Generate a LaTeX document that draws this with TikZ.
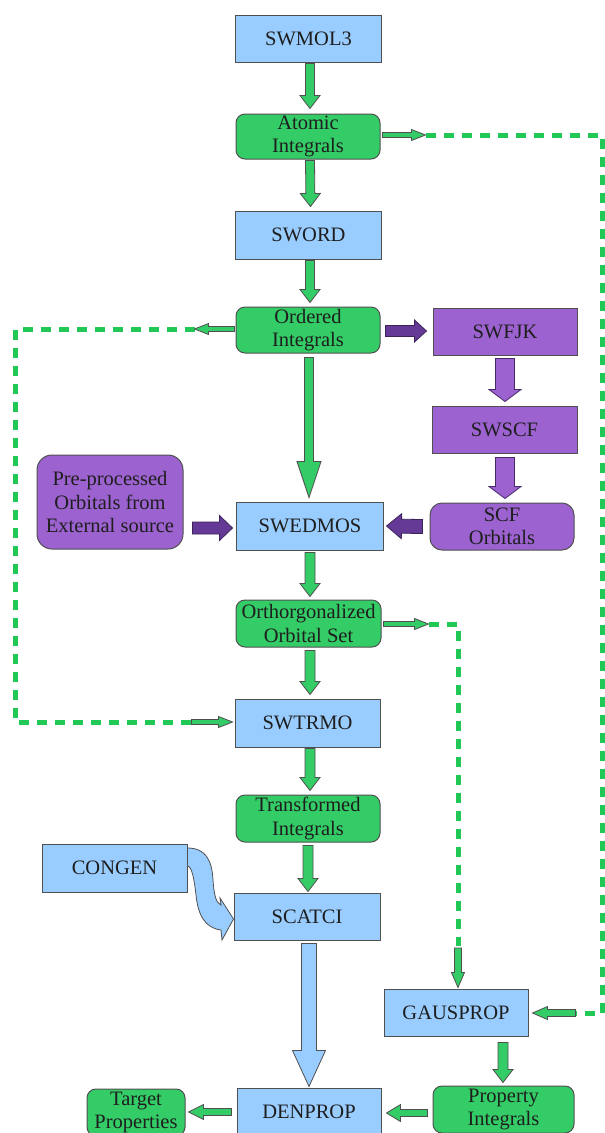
\documentclass[tikz,border=0pt]{standalone}
\usepackage{fontspec}
\setmainfont{Liberation Serif}
\usetikzlibrary{calc}
\definecolor{boxblue}{RGB}{153,204,255}
\definecolor{boxgreen}{RGB}{51,204,102}
\definecolor{dashgreen}{RGB}{34,200,85}
\definecolor{boxpurple}{RGB}{156,98,208}
\definecolor{darkpurple}{RGB}{100,58,150}
\definecolor{edgegray}{RGB}{80,80,80}
\definecolor{ink}{RGB}{30,30,30}
% block arrow: #1 style, #2 start, #3 tip, #4 shaft half width, #5 head half width, #6 head length
\newcommand{\barrow}[6]{%
 \path[#1] let \p1=(#2), \p2=(#3), \n1={atan2(\y2-\y1,\x2-\x1)}, \n2={veclen(\x2-\x1,\y2-\y1)} in
  ([shift={(\p1)},rotate=\n1]0,#4) -- ([shift={(\p1)},rotate=\n1]\n2-#6,#4) -- ([shift={(\p1)},rotate=\n1]\n2-#6,#5) -- ([shift={(\p1)},rotate=\n1]\n2,0) -- ([shift={(\p1)},rotate=\n1]\n2-#6,-#5) -- ([shift={(\p1)},rotate=\n1]\n2-#6,-#4) -- ([shift={(\p1)},rotate=\n1]0,-#4) -- cycle;}
\tikzset{
 base/.style={draw=edgegray, line width=1pt, text=ink, font=\fontsize{20.5}{23.5}\selectfont, align=center, inner sep=0pt, anchor=center},
 bluebox/.style={base, fill=boxblue, minimum width=146pt, minimum height=47pt},
 greenbox/.style={base, fill=boxgreen, rounded corners=9pt, minimum width=144pt, minimum height=46pt},
 purplebox/.style={base, fill=boxpurple, minimum width=145pt, minimum height=47pt},
 garrow/.style={draw=edgegray, line width=0.8pt, fill=boxgreen, line join=miter},
 barrowst/.style={draw=edgegray, line width=0.8pt, fill=boxblue, line join=miter},
 parrow/.style={draw=darkpurple!70!black, line width=0.8pt, fill=boxpurple, line join=miter},
 dparrow/.style={draw=darkpurple!60!black, line width=0.8pt, fill=darkpurple, line join=miter},
 dline/.style={draw=dashgreen, line width=5pt, dash pattern=on 10pt off 8pt, line join=miter}
}
\begin{document}
\begin{tikzpicture}[x=1pt,y=-1pt]
\useasboundingbox (0,0) rectangle (605,1133);
\fill[white] (0,0) rectangle (605,1133);
% nodes
\node[bluebox] (swmol) at (308.5,38.5) {SWMOL3};
\node[greenbox, minimum height=45pt] (atomic) at (308,136.5) {Atomic\\Integrals};
\node[bluebox, minimum height=48pt] (sword) at (308.5,235) {SWORD};
\node[greenbox] (ordered) at (308,330) {Ordered\\Integrals};
\node[purplebox, minimum width=144pt] (swfjk) at (505,331.5) {SWFJK};
\node[purplebox] (swscf) at (504.5,429.5) {SWSCF};
\node[purplebox, rounded corners=12pt, minimum width=144pt] (scf) at (502,526.5) {SCF\\Orbitals};
\node[bluebox, minimum width=147pt, minimum height=48pt] (swedmos) at (310,526) {SWEDMOS};
\node[purplebox, rounded corners=15pt, minimum width=146pt, minimum height=94pt] (pre) at (110,502) {Pre-processed\\Orbitals from\\External source};
\node[greenbox, minimum width=145pt, minimum height=47pt] (ortho) at (308.5,623.5) {Orthorgonalized\\Orbital Set};
\node[bluebox, minimum width=145pt, minimum height=48pt] (swtrmo) at (307.5,723) {SWTRMO};
\node[greenbox, minimum height=47pt] (trans) at (308,818.5) {Transformed\\Integrals};
\node[bluebox, minimum width=145pt, minimum height=48pt] (congen) at (114.5,868) {CONGEN};
\node[bluebox] (scatci) at (307,916.5) {SCATCI};
\node[bluebox, minimum width=144pt] (gausprop) at (456,1012.5) {GAUSPROP};
\node[greenbox, minimum width=141pt, minimum height=47pt] (property) at (503.5,1109.5) {Property\\Integrals};
\node[bluebox, minimum width=144pt] (denprop) at (309,1111.5) {DENPROP};
\node[greenbox, minimum width=98pt, minimum height=47pt] (target) at (136,1112.5) {Target\\Properties};
% main column arrows
\barrow{garrow}{$(swmol.south)+(1.5,1)$}{$(atomic.north)+(2,-5)$}{4.5}{10}{13}
\barrow{garrow}{$(atomic.south)+(2,1)$}{$(sword.north)+(2,-4)$}{4.5}{10}{13}
\barrow{garrow}{$(sword.south)+(1.5,1)$}{$(ordered.north)+(2,-4)$}{4.5}{10}{13}
\barrow{garrow}{$(ordered.south)+(1,4)$}{$(swedmos.north)+(-1,-4)$}{4.5}{12}{36}
\barrow{garrow}{$(swedmos.south)+(0,2)$}{$(ortho.north)+(1.5,-3)$}{5}{10}{13}
\barrow{garrow}{$(ortho.south)+(1.5,3)$}{$(swtrmo.north)+(2.5,-4)$}{5}{10}{13}
\barrow{garrow}{$(swtrmo.south)+(2.5,1)$}{$(trans.north)+(2,-4)$}{5}{10}{13}
\barrow{garrow}{$(trans.south)+(0,3)$}{$(scatci.north)+(1,-1)$}{5}{10}{13}
\barrow{barrowst}{$(scatci.south)+(2,3)$}{$(denprop.north)+(0,-1)$}{7.5}{16.5}{36}
\barrow{garrow}{$(gausprop.south)+(47,6)$}{$(property.north)+(-0.5,-3)$}{5}{10}{13}
\barrow{garrow}{$(property.west)+(-5,3.5)$}{$(denprop.east)+(5,1.5)$}{3.5}{8.5}{14}
\barrow{garrow}{$(denprop.west)+(-5,0.5)$}{$(target.east)+(3,-0.5)$}{3.5}{7.5}{15}
% purple arrows
\barrow{dparrow}{$(ordered.east)+(5,1)$}{$(swfjk.west)+(-6,-0.5)$}{5.5}{11}{12}
\barrow{parrow}{$(swfjk.south)+(0,3)$}{$(swscf.north)+(0.5,-4)$}{9.5}{16}{12}
\barrow{parrow}{$(swscf.south)+(0.5,4)$}{$(scf.north)+(3,-4)$}{9.5}{16}{12}
\barrow{dparrow}{$(scf.west)+(-7,0)$}{$(swedmos.east)+(2.5,0)$}{7}{12.5}{15}
\barrow{dparrow}{$(pre.east)+(9,26)$}{$(swedmos.west)+(-3.5,2)$}{6}{12.5}{13}
% curved CONGEN arrow
\path[barrowst] ($(congen.east)+(0,-20)$) .. controls +(18,0) and (212,860) .. (213,880)
  .. controls (214,895) and (216,903) .. (221,905) -- (220,898) -- ($(scatci.west)+(0,2.5)$)
  -- (222,940) -- (221,930) .. controls (205,928) and (198,915) .. (196,895)
  .. controls (194,878) and (192,867) .. ($(congen.east)+(0,-2)$) -- cycle;
% dashed connector from Atomic Integrals to GAUSPROP
\coordinate (a1) at ($(atomic.east)+(45,-1.5)$);
\coordinate (a2) at (602,135);
\coordinate (a3) at (602,1013);
\coordinate (a4) at ($(gausprop.east)+(47,0.5)$);
\draw[dline] (a1) -- (a2) -- (a3) -- (a4);
\barrow{garrow}{$(atomic.east)+(2,-1.5)$}{a1}{2.5}{5.5}{14}
\barrow{garrow}{a4}{$(gausprop.east)+(4,0.5)$}{3.5}{6.5}{15}
% dashed connector from Ordered Integrals to SWTRMO
\coordinate (b1) at ($(ordered.west)+(-41,-1)$);
\coordinate (b2) at (15,329);
\coordinate (b3) at (15,722);
\coordinate (b4) at ($(swtrmo.west)+(-43,-1)$);
\draw[dline] (b1) -- (b2) -- (b3) -- (b4);
\barrow{garrow}{$(ordered.west)+(-1,-1)$}{b1}{2.5}{5.5}{14}
\barrow{garrow}{b4}{$(swtrmo.west)+(-2,-1)$}{2.5}{5.5}{14}
% dashed connector from Orthogonalized set to GAUSPROP
\coordinate (c1) at ($(ortho.east)+(47,0.5)$);
\coordinate (c2) at (458,624);
\coordinate (c3) at (458,946);
\draw[dline] (c1) -- (c2) -- (c3);
\barrow{garrow}{$(ortho.east)+(2,0.5)$}{c1}{2.5}{5.5}{14}
\barrow{garrow}{$(c3)+(0,2)$}{$(gausprop.north)+(2,-1)$}{3.5}{6.5}{15}
\end{tikzpicture}
\end{document}
